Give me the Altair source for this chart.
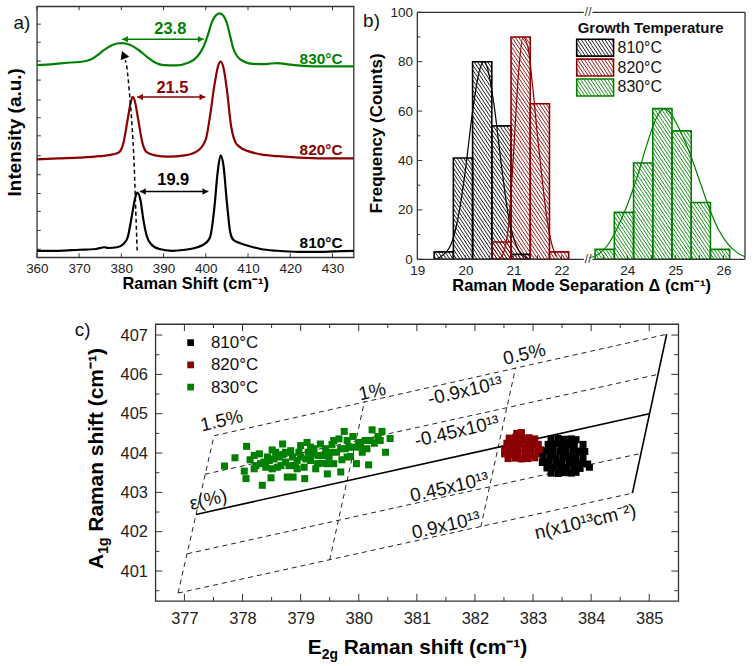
import math
import pandas as pd
import altair as alt

FONT = "Liberation Sans"
TEMPS = ["810°C", "820°C", "830°C"]
COLORS = ["#000000", "#8b0000", "#008000"]
CSCALE = alt.Scale(domain=TEMPS, range=COLORS)

# ---------------- panel a : Raman spectra ----------------
spec810_x = [360, 365, 370, 374, 376, 377, 379, 380.5, 381.5, 382.5, 383.3, 383.8, 384.5, 385.2, 386, 387, 389, 392, 395, 398,
             400, 401, 402, 402.8, 403.5, 404.2, 405, 405.8, 406.5, 408, 410, 413, 417, 422, 428, 432, 435]
spec810_y = [2.6, 2.6, 3.0, 3.3, 4.0, 3.7, 4.0, 5.3, 7.9, 16.5, 23.8, 25.8, 23.1, 15.2, 8.6, 5.3, 3.3, 2.6, 3.0, 4.0,
             5.7, 7.9, 19.2, 33.7, 40.6, 36.4, 21.8, 9.9, 7.0, 5.7, 4.6, 3.3, 2.6, 2.2, 2.2, 2.5, 2.6]
spec820_x = [360, 365, 370, 375, 378, 379.5, 380.5, 381.5, 382.2, 382.7, 383.3, 384, 385, 386, 388, 391, 395, 398, 400, 401,
             402, 403, 403.5, 404.2, 405, 406, 407, 408, 410, 413, 417, 422, 428, 435]
spec820_y = [39.0, 39.4, 39.7, 40.3, 41.0, 41.9, 45.6, 54.9, 61.5, 63.9, 61.5, 54.9, 45.6, 41.9, 40.6, 40.1, 40.6, 42.3, 47.0, 56.2,
             68.1, 76.7, 78.0, 75.4, 66.8, 52.2, 45.9, 44.0, 42.3, 41.0, 40.3, 39.7, 39.4, 39.4]
spec830_x = [360, 364, 368, 371, 373, 374.5, 376, 378, 380, 382, 384, 386, 388, 390, 393, 396, 398, 399.5, 400.5, 401.5,
             402.5, 403.3, 404.2, 405, 405.8, 406.5, 407.5, 409, 411, 414, 417, 419, 423, 428, 435]
spec830_y = [76.6, 77.0, 77.6, 78.0, 79.0, 80.7, 82.7, 84.7, 85.3, 84.7, 82.7, 80.0, 77.6, 76.6, 76.5, 77.6, 80.0, 84.0, 88.6, 93.9,
             96.6, 97.2, 96.2, 93.3, 88.0, 83.3, 80.0, 78.0, 77.1, 77.0, 77.4, 77.0, 76.3, 76.1, 76.1]
a_lab_R = [432.4, 432.4, 432.4]
a_lab_I = [3.8, 40.7, 77.0]
sep_T = ["830°C", "820°C", "810°C"]
sep_text = ["23.8", "21.5", "19.9"]
sep_R = [391.6, 392.1, 392.3]
sep_I = [90.9, 67.5, 30.6]
arr_R0 = [380.2, 383.75, 384.4]
arr_R1 = [399.5, 399.9, 400.6]
arr_I = [86.9, 63.9, 26.2]
guide_R = [383.75, 383.35, 382.95, 382.33, 381.39, 380.9]
guide_I = [2.7, 21.8, 40.3, 57.5, 74.7, 78.5]
head_R = [380.5]
head_I = [80.7]
a_xticks = [360, 370, 380, 390, 400, 410, 420, 430]
a_yticks = [3.2, 10.7, 18.3, 25.4, 32.9, 40.5, 48.4, 55.6, 62.7, 70.6, 78.2, 85.7, 92.9]

# ---------------- panel b : histograms ----------------
BIN_W = 0.4
b810_lo = [19.35, 19.75, 20.15, 20.55, 20.95]
b810_n = [3, 41, 80, 54, 2]
b820_lo = [20.55, 20.95, 21.35, 21.75]
b820_n = [7, 90, 63, 3]
b830_lo = [23.33, 23.73, 24.13, 24.53, 24.93, 25.33, 25.73]
b830_n = [4, 19, 39, 61, 52, 23, 4]
fit810_x = [19.4, 19.55, 19.7, 19.85, 20.0, 20.15, 20.3, 20.38, 20.45, 20.6, 20.75, 20.9, 21.05, 21.2, 21.35]
fit810_y = [0, 2, 6, 17, 36, 60, 77, 80, 78, 62, 38, 17, 6, 1.5, 0]
fit820_x = [20.7, 20.8, 20.9, 21.0, 21.1, 21.2, 21.3, 21.4, 21.5, 21.6, 21.7, 21.8, 21.9]
fit820_y = [0, 3, 14, 42, 74, 90, 86, 70, 50, 32, 16, 6, 1]
fit830_x = [23.2, 23.4, 23.6, 23.8, 24.0, 24.2, 24.4, 24.6, 24.76, 24.9, 25.1, 25.3, 25.5, 25.7, 25.9, 26.1, 26.3, 26.45]
fit830_y = [0.5, 2, 6, 13, 22, 33, 46, 57, 61, 59, 52, 43, 32, 21, 12, 6, 2.5, 1]
b_xlabels = [19, 20, 21, 22, 24, 25, 26]
b_yticks_major = [0, 20, 40, 60, 80, 100]
b_yticks_minor = [10, 30, 50, 70, 90]
b_xticks = [19.5, 20, 20.5, 21, 21.5, 22, 23.5, 24, 24.5, 25, 25.5, 26]
GAP = 0.63          # removed part of the broken axis (22.55 .. 23.18)
BREAK_AT = 22.555
B_XMAX = 26.45 - GAP

# ---------------- panel c : strain / doping map ----------------
g830_X = [377.69, 377.87, 378.07, 378.03, 378.06, 378.13, 378.20, 378.23, 378.29, 378.34, 378.37, 378.43, 378.49, 378.51, 378.54,
          378.60, 378.69, 378.69, 378.74, 378.77, 378.83, 378.86, 378.87, 378.91, 379.00, 379.00, 379.06, 379.07, 379.11, 379.13,
          379.17, 379.23, 379.26, 379.30, 379.34, 379.37, 379.43, 379.46, 379.49, 379.54, 379.57, 379.62, 379.66, 379.69, 379.71,
          379.75, 379.77, 379.80, 379.86, 379.90, 379.91, 379.96, 380.00, 380.06, 380.11, 380.17, 380.23, 380.27, 380.33, 380.40,
          380.46, 380.54, 378.31, 378.40, 378.46, 378.57, 378.63, 378.66, 378.74, 378.80, 378.94, 378.97, 379.09, 379.20, 379.29,
          379.40, 379.51, 379.69, 379.83, 380.03, 380.14, 380.20, 380.37, 378.20, 378.51, 378.94, 379.46, 379.80, 379.17, 379.57]
g830_Y = [403.67, 403.88, 404.17, 403.54, 403.35, 403.83, 403.94, 403.68, 403.98, 403.18, 403.77, 403.90, 403.37, 404.08, 403.85,
          403.64, 404.23, 403.96, 403.77, 403.39, 404.06, 403.90, 403.39, 403.68, 404.19, 403.90, 403.64, 403.35, 404.27, 404.02,
          403.81, 404.11, 403.60, 403.94, 404.23, 403.74, 404.11, 403.47, 403.90, 404.22, 403.73, 404.02, 404.36, 403.52, 403.83,
          404.55, 404.11, 404.32, 403.91, 404.42, 404.15, 403.73, 404.27, 404.02, 404.32, 403.70, 404.59, 404.25, 404.42, 404.55,
          404.02, 404.37, 403.73, 403.64, 403.81, 404.02, 403.90, 403.68, 404.02, 403.68, 403.81, 404.02, 403.85, 403.98, 403.73,
          403.94, 404.02, 404.11, 404.15, 404.15, 404.11, 404.32, 404.32, 403.60, 403.60, 403.60, 403.73, 403.90, 404.15, 404.32]
g820_X = [382.72, 382.80, 382.59, 382.70, 382.82, 382.93, 383.03, 382.55, 382.66, 382.77, 382.89, 383.00, 383.09,
          382.51, 382.63, 382.74, 382.86, 382.97, 383.09, 383.13, 382.51, 382.63, 382.74, 382.86, 382.97, 383.09, 383.13,
          382.57, 382.69, 382.80, 382.91, 383.03]
g820_Y = [404.50, 404.52, 404.38, 404.40, 404.37, 404.39, 404.36, 404.25, 404.26, 404.24, 404.25, 404.23, 404.22,
          404.11, 404.12, 404.10, 404.11, 404.12, 404.10, 404.08, 403.98, 403.97, 403.99, 403.98, 403.97, 403.99, 403.98,
          403.86, 403.87, 403.85, 403.86, 403.88]
g810_X = [383.31, 383.43, 383.54, 383.66, 383.74, 383.26, 383.37, 383.49, 383.60, 383.71, 383.86,
          383.23, 383.34, 383.46, 383.57, 383.69, 383.80, 383.89, 383.17, 383.29, 383.40, 383.52, 383.63, 383.74, 383.86,
          383.16, 383.27, 383.39, 383.50, 383.62, 383.73, 383.85, 383.94, 383.24, 383.35, 383.47, 383.58, 383.70, 383.81,
          383.97, 383.31, 383.43, 383.54, 383.66, 383.74]
g810_Y = [404.36, 404.37, 404.35, 404.36, 404.34, 404.22, 404.23, 404.21, 404.22, 404.20, 404.22,
          404.06, 404.07, 404.05, 404.06, 404.07, 404.05, 404.04, 403.91, 403.92, 403.90, 403.91, 403.92, 403.90, 403.89,
          403.76, 403.77, 403.75, 403.76, 403.77, 403.75, 403.74, 403.72, 403.62, 403.63, 403.61, 403.62, 403.63, 403.61,
          403.64, 403.49, 403.48, 403.50, 403.49, 403.51]
dash_X1 = [377.51, 377.35, 377.05, 376.89, 376.89, 379.50, 382.10]
dash_Y1 = [404.44, 403.46, 401.44, 400.44, 400.44, 401.28, 402.12]
dash_X2 = [385.30, 385.15, 384.85, 384.71, 377.51, 380.10, 382.70]
dash_Y2 = [407.02, 406.00, 403.99, 402.98, 404.44, 405.32, 406.17]
solid_X1 = [377.20, 384.71]
solid_Y1 = [402.44, 402.98]
solid_X2 = [385.00, 385.30]
solid_Y2 = [405.00, 407.02]
c_lab_text = ["1.5%", "1%", "0.5%", "-0.9x10¹³", "-0.45x10¹³", "0.45x10¹³", "0.9x10¹³", "n(x10¹³cm⁻²)", "ε(%)"]
c_lab_X = [377.64, 380.23, 382.85, 381.83, 381.69, 381.56, 381.50, 383.90, 377.41]
c_lab_Y = [404.82, 405.56, 406.51, 405.58, 404.55, 403.13, 402.16, 402.25, 402.81]
c_xmajor = [377, 378, 379, 380, 381, 382, 383, 384, 385]
c_xminor = [377.5, 378.5, 379.5, 380.5, 381.5, 382.5, 383.5, 384.5]
c_ymajor = [401, 402, 403, 404, 405, 406, 407]
c_yminor = [400.5, 401.5, 402.5, 403.5, 404.5, 405.5, 406.5]

one = pd.DataFrame({"k": [0]})
colr = alt.Color("T:N", scale=CSCALE, legend=None)
TICK = "#333333"
FRAME = "#333333"


def hticks(vals, field, H, length, top=False):
    df = pd.DataFrame({field: vals})
    y0, y1 = (0, length) if top else (H, H - length)
    return alt.Chart(df).mark_rule(color=TICK, strokeWidth=1).encode(
        x=f"{field}:Q", y=alt.value(y0), y2=alt.value(y1))


def vticks(vals, field, W, length, right=False):
    df = pd.DataFrame({field: vals})
    x0, x1 = (W, W - length) if right else (0, length)
    return alt.Chart(df).mark_rule(color=TICK, strokeWidth=1).encode(
        y=f"{field}:Q", x=alt.value(x0), x2=alt.value(x1))


def label(txt, x, y, size=19):
    return alt.Chart(one).mark_text(text=txt, fontSize=size, align="center", baseline="middle",
                                    color="#111").encode(x=alt.value(x), y=alt.value(y))


# ======================= panel a =======================
WA, HA = 318, 252
spec_df = pd.DataFrame([{"R": x, "I": y, "T": T}
                        for T, xs, ys in ((TEMPS[0], spec810_x, spec810_y),
                                          (TEMPS[1], spec820_x, spec820_y),
                                          (TEMPS[2], spec830_x, spec830_y))
                        for x, y in zip(xs, ys)])
xa = alt.X("R:Q", scale=alt.Scale(domain=[360, 435], nice=False, zero=False),
           axis=alt.Axis(title="Raman Shift (cm⁻¹)", values=a_xticks, format="d", ticks=False, domain=False,
                         labelFlush=False, labelPadding=4, titlePadding=1, labelFontSize=13.5, titleFontSize=16.5))
ya = alt.Y("I:Q", scale=alt.Scale(domain=[0, 100], nice=False, zero=False),
           axis=alt.Axis(title="Intensity (a.u.)", labels=False, ticks=False, domain=False,
                         titleFontSize=19, titlePadding=12))
a_lines = alt.Chart(spec_df).mark_line(strokeWidth=2.2, interpolate="monotone").encode(
    x=xa, y=ya, color=colr, detail="T:N")
a_temp = alt.Chart(pd.DataFrame({"R": a_lab_R, "I": a_lab_I, "T": TEMPS})).mark_text(
    align="right", baseline="alphabetic", fontSize=15.5, fontWeight="bold").encode(
    x="R:Q", y="I:Q", text="T:N", color=colr)
a_sep = alt.Chart(pd.DataFrame({"R": sep_R, "I": sep_I, "T": sep_T, "s": sep_text})).mark_text(
    align="center", baseline="middle", fontSize=16.5, fontWeight="bold").encode(
    x="R:Q", y="I:Q", text="s:N", color=colr)
arr_df = pd.DataFrame({"R": arr_R0, "R2": arr_R1, "I": arr_I, "T": sep_T})
a_arr = alt.Chart(arr_df).mark_rule(strokeWidth=1.5).encode(x="R:Q", x2="R2:Q", y="I:Q", color=colr)
a_hl = alt.Chart(arr_df).mark_point(shape="triangle-left", filled=True, size=42, opacity=1, xOffset=3).encode(
    x="R:Q", y="I:Q", color=colr)
a_hr = alt.Chart(arr_df).mark_point(shape="triangle-right", filled=True, size=42, opacity=1, xOffset=-3).encode(
    x="R2:Q", y="I:Q", color=colr)
a_guide = alt.Chart(pd.DataFrame({"R": guide_R, "I": guide_I, "k": list(range(len(guide_R)))})).mark_line(
    strokeDash=[4, 3], strokeWidth=1.5, color="black", interpolate="cardinal").encode(
    x="R:Q", y="I:Q", order="k:Q")
a_head = alt.Chart(pd.DataFrame({"R": head_R, "I": head_I})).mark_point(
    shape="triangle-up", filled=True, size=85, angle=338, color="black", opacity=1).encode(x="R:Q", y="I:Q")
panel_a = alt.layer(
    a_lines, a_guide, a_head, a_arr, a_hl, a_hr, a_temp, a_sep,
    hticks(a_xticks, "R", HA, 4), hticks(a_xticks, "R", HA, 4, top=True),
    vticks(a_yticks, "I", WA, 4),
    label("a)", -15, 16.5),
).properties(width=WA, height=HA)

# ======================= panel b =======================
# plot area starts 6 px above the frame so that the frame sits lower than panel a's
WB, HB = 329, 254
BPY = 248 / 100.0
B_YTOP = 100 + 6 / BPY
BPX = WB / (B_XMAX - 19)


def sx(v):
    return v - GAP if v > 22.8 else v


def bx_px(px):
    return 19 + px / BPX


def by_px(py):
    return 100 - py / BPY


def hatch(x0, x1, y0, y1, T, step=3.4, k=1.5):
    u0, u1 = (x0 - 19) * BPX, (x1 - 19) * BPX
    vt, vb = (100 - y1) * BPY, (100 - y0) * BPY
    dc = k * step
    rows = []
    for n in range(math.ceil((vt - k * u1) / dc), math.floor((vb - k * u0) / dc) + 1):
        c = n * dc
        ua = max(u0, (vt - c) / k)
        ub = min(u1, (vb - c) / k)
        if ub - ua > 0.2:
            rows.append({"xv": 19 + ua / BPX, "yv": 100 - (c + k * ua) / BPY,
                         "xv2": 19 + ub / BPX, "yv2": 100 - (c + k * ub) / BPY, "T": T})
    return rows


bar_rows, hatch_rows = [], []
for T, los, ns in ((TEMPS[0], b810_lo, b810_n), (TEMPS[1], b820_lo, b820_n), (TEMPS[2], b830_lo, b830_n)):
    for lo, n in zip(los, ns):
        x0, x1 = sx(lo), sx(lo + BIN_W)
        bar_rows.append({"xv": x0, "xv2": x1, "yv": n, "yv2": 0, "T": T})
        hatch_rows += hatch(x0, x1, 0, n, T)
leg_rows, leg_txt = [], []
for i, T in enumerate(TEMPS):
    x0, x1 = bx_px(160), bx_px(197)
    yt, yb = by_px(27 + 20 * i), by_px(44 + 20 * i)
    leg_rows.append({"xv": x0, "xv2": x1, "yv": yt, "yv2": yb, "T": T})
    hatch_rows += hatch(x0, x1, yb, yt, T)
    leg_txt.append({"xv": bx_px(201), "yv": by_px(35.5 + 20 * i), "T": T})
fit_df = pd.DataFrame([{"xv": sx(x), "yv": y, "T": T}
                       for T, xs, ys in ((TEMPS[0], fit810_x, fit810_y), (TEMPS[1], fit820_x, fit820_y),
                                         (TEMPS[2], fit830_x, fit830_y)) for x, y in zip(xs, ys)])
xb = alt.X("xv:Q", scale=alt.Scale(domain=[19, B_XMAX], nice=False, zero=False),
           axis=alt.Axis(title="Raman Mode Separation Δ (cm⁻¹)", values=[sx(v) for v in b_xlabels],
                         labelExpr=f"datum.value > 22.8 ? round(datum.value + {GAP}) : round(datum.value)",
                         ticks=False, domain=False, labelFlush=False, labelPadding=4, titlePadding=1,
                         labelFontSize=13.5, titleFontSize=16.5))
yb = alt.Y("yv:Q", scale=alt.Scale(domain=[0, B_YTOP], nice=False, zero=False),
           axis=alt.Axis(title="Frequency (Counts)", values=b_yticks_major, ticks=False, domain=False,
                         labelPadding=5, titlePadding=4, labelFontSize=13.5, titleFontSize=17))
frame_b = pd.DataFrame({"xv": [19, 19, 19, B_XMAX], "xv2": [B_XMAX, B_XMAX, 19, B_XMAX],
                        "yv": [0, 100, 0, 0], "yv2": [0, 100, 100, 100]})
b_frame = alt.Chart(frame_b).mark_rule(color=FRAME, strokeWidth=1.3).encode(
    x="xv:Q", x2="xv2:Q", y="yv:Q", y2="yv2:Q")
b_hatch = alt.Chart(pd.DataFrame(hatch_rows)).mark_rule(strokeWidth=0.9).encode(
    x=xb, y=yb, x2="xv2:Q", y2="yv2:Q", color=colr)
b_bars = alt.Chart(pd.DataFrame(bar_rows + leg_rows)).mark_rect(filled=False, strokeWidth=1.6).encode(
    x="xv:Q", x2="xv2:Q", y="yv:Q", y2="yv2:Q", color=colr)
b_fit = alt.Chart(fit_df).mark_line(strokeWidth=1.2, interpolate="monotone").encode(
    x="xv:Q", y="yv:Q", color=colr, detail="T:N")
b_legt = alt.Chart(pd.DataFrame(leg_txt)).mark_text(align="left", baseline="middle", fontSize=16,
                                                     color="#111").encode(x="xv:Q", y="yv:Q", text="T:N")
b_legtitle = alt.Chart(pd.DataFrame({"xv": [bx_px(161)], "yv": [by_px(16)]})).mark_text(
    text="Growth Temperature", align="left", baseline="middle", fontSize=15, fontWeight="bold",
    color="#111").encode(x="xv:Q", y="yv:Q")
b_gap = alt.Chart(pd.DataFrame({"xv": [BREAK_AT - 0.09] * 2, "xv2": [BREAK_AT + 0.09] * 2, "yv": [0, 100]})).mark_rule(
    color="white", strokeWidth=3).encode(x="xv:Q", x2="xv2:Q", y="yv:Q")
b_brk = alt.Chart(pd.DataFrame({"xv": [BREAK_AT] * 2, "yv": [0, 100]})).mark_text(
    text="//", fontSize=12, align="center", baseline="middle", color="#333").encode(x="xv:Q", y="yv:Q")
panel_b = alt.layer(
    b_hatch, b_bars, b_fit, b_legt, b_legtitle, b_frame, b_gap, b_brk,
    hticks([sx(v) for v in b_xticks], "xv", HB, 4),
    vticks(b_yticks_major, "yv", WB, 5), vticks(b_yticks_minor, "yv", WB, 3),
    label("b)", -46, 15),
).properties(width=WB, height=HB, view=alt.ViewBackground(strokeOpacity=0))

# ======================= panel c =======================
WC, HC = 525, 278
xc = alt.X("X:Q", scale=alt.Scale(domain=[376.5, 385.5], nice=False, zero=False),
           axis=alt.Axis(title=None, values=c_xmajor, format="d", ticks=False, domain=False, labelFlush=False,
                         labelPadding=10, labelFontSize=16.5))
yc = alt.Y("Y:Q", scale=alt.Scale(domain=[400.24, 407.28], nice=False, zero=False),
           axis=alt.Axis(title=None, values=c_ymajor, format="d", ticks=False, domain=False,
                         labelPadding=8, labelFontSize=16.5))
c_dash = alt.Chart(pd.DataFrame({"X": dash_X1, "Y": dash_Y1, "X2": dash_X2, "Y2": dash_Y2})).mark_rule(
    strokeDash=[5, 4], strokeWidth=1, color="#222").encode(x=xc, y=yc, x2="X2:Q", y2="Y2:Q")
c_solid = alt.Chart(pd.DataFrame({"X": solid_X1, "Y": solid_Y1, "X2": solid_X2, "Y2": solid_Y2})).mark_rule(
    strokeWidth=1.6, color="black").encode(x="X:Q", y="Y:Q", x2="X2:Q", y2="Y2:Q")
pts = pd.DataFrame([{"X": x, "Y": y, "T": T}
                    for T, xs, ys in ((TEMPS[2], g830_X, g830_Y), (TEMPS[1], g820_X, g820_Y),
                                      (TEMPS[0], g810_X, g810_Y)) for x, y in zip(xs, ys)])
c_pts = alt.Chart(pts).mark_square(size=50, opacity=1).encode(x="X:Q", y="Y:Q", color=colr)
c_lab = alt.Chart(pd.DataFrame({"X": c_lab_X, "Y": c_lab_Y, "s": c_lab_text})).mark_text(
    angle=347, fontSize=19, align="center", baseline="middle", color="#111").encode(
    x="X:Q", y="Y:Q", text="s:N")
c_layers = [c_dash, c_solid, c_pts, c_lab,
            hticks(c_xmajor, "X", HC, 7), hticks(c_xminor, "X", HC, 4),
            hticks(c_xmajor, "X", HC, 7, top=True), hticks(c_xminor, "X", HC, 4, top=True),
            vticks(c_ymajor, "Y", WC, 7), vticks(c_yminor, "Y", WC, 4),
            vticks(c_ymajor, "Y", WC, 7, right=True), vticks(c_yminor, "Y", WC, 4, right=True),
            label("c)", -73, 6)]
for i, (T, col) in enumerate(zip(TEMPS, COLORS)):
    c_layers.append(alt.Chart(one).mark_square(size=46, opacity=1, color=col).encode(
        x=alt.value(35.4), y=alt.value(18.7 + 22.3 * i)))
    c_layers.append(alt.Chart(one).mark_text(text=T, fontSize=17, align="left", baseline="middle",
                                             color="#111").encode(x=alt.value(55.8), y=alt.value(19.2 + 22.3 * i)))
TS, SS = 21, 14
c_layers += [
    alt.Chart(one).mark_text(text="E", fontSize=TS, fontWeight="bold", align="left", baseline="alphabetic",
                             color="#000").encode(x=alt.value(153), y=alt.value(331)),
    alt.Chart(one).mark_text(text="2g", fontSize=SS, fontWeight="bold", align="left", baseline="alphabetic",
                             color="#000").encode(x=alt.value(167), y=alt.value(336)),
    alt.Chart(one).mark_text(text="Raman shift (cm⁻¹)", fontSize=TS, fontWeight="bold", align="left",
                             baseline="alphabetic", color="#000").encode(x=alt.value(189), y=alt.value(331)),
    alt.Chart(one).mark_text(text="A", fontSize=TS, fontWeight="bold", align="left", baseline="alphabetic",
                             angle=270, color="#000").encode(x=alt.value(-53), y=alt.value(246)),
    alt.Chart(one).mark_text(text="1g", fontSize=SS, fontWeight="bold", align="left", baseline="alphabetic",
                             angle=270, color="#000").encode(x=alt.value(-48), y=alt.value(230.6)),
    alt.Chart(one).mark_text(text="Raman shift (cm⁻¹)", fontSize=TS, fontWeight="bold", align="left",
                             baseline="alphabetic", angle=270, color="#000").encode(x=alt.value(-53), y=alt.value(208.5)),
]
panel_c = alt.layer(*c_layers).properties(width=WC, height=HC)


# ======================= layout =======================
def spacer(w, h):
    return alt.Chart(one).mark_point(opacity=0).encode(
        x=alt.X("k:Q", axis=None), y=alt.Y("k:Q", axis=None)).properties(
        width=w, height=h, view=alt.ViewBackground(strokeOpacity=0))


row1 = alt.hconcat(panel_a, panel_b, spacing=64, bounds="flush")
row2 = alt.hconcat(spacer(19, 1), panel_c, spacing=100, bounds="flush")
chart = alt.vconcat(row1, row2, spacing=26).properties(
    padding={"left": 5, "top": 3, "right": 5, "bottom": 5}
).configure(font=FONT).configure_view(stroke=FRAME, strokeWidth=1.3).configure_axis(
    grid=False, labelFont=FONT, titleFont=FONT, labelColor="#222222", titleColor="#000000", titleFontWeight="bold"
).configure_text(font=FONT)

chart.save("out.html", embed_options={"renderer": "svg", "actions": False})
